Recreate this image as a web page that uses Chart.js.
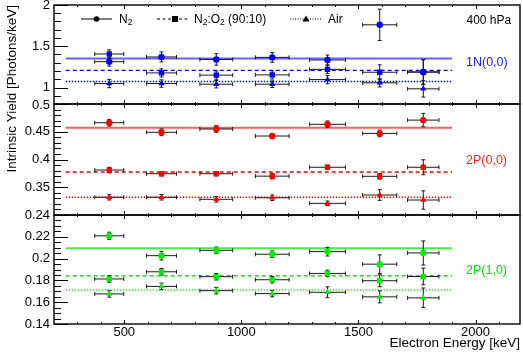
<!DOCTYPE html>
<html><head><meta charset="utf-8">
<script src="https://cdn.jsdelivr.net/npm/chart.js@4.4.1/dist/chart.umd.min.js"></script>
<style>
html,body{margin:0;padding:0;background:#fff;}
#wrap{position:relative;width:523px;height:358px;overflow:hidden;}
#wrap canvas{position:absolute;left:0;top:0;}
#c1{z-index:1;} #c3{z-index:2;} #c2{z-index:3;}
#topLabel{position:absolute;z-index:10;right:473px;top:97px;font:13px 'Liberation Sans', Arial, sans-serif;line-height:15px;color:#000;white-space:nowrap;}
</style></head><body>
<div id="wrap">
<canvas id="c1" width="523" height="358"></canvas>
<canvas id="c3" width="523" height="358"></canvas>
<canvas id="c2" width="523" height="358"></canvas>
<div id="topLabel">0.5</div>
</div>
<script>
// ---------------- DATA ----------------
const energies  = [436, 659, 893, 1132, 1368, 1591, 1777];
const energyErr = [62, 64, 70, 72, 77, 73, 67];
const meanRange = [250, 1900];

// 1N(0,0)
const n1_N2      = [1.313, 1.370, 1.340, 1.365, 1.334, 1.760, 1.185];
const n1_N2_err  = [0.055, 0.06, 0.07, 0.06, 0.06, 0.19, 0.15];
const n1_Mix     = [1.406, 1.177, 1.150, 1.153, 1.220, 1.185, 1.19];
const n1_Mix_err = [0.05, 0.05, 0.05, 0.05, 0.05, 0.09, 0.15];
const n1_Air     = [1.048, 1.048, 1.040, 1.040, 1.096, 1.057, 0.984];
const n1_Air_err = [0.05, 0.045, 0.045, 0.04, 0.05, 0.05, 0.1];
const n1_means   = [1.353, 1.208, 1.072];
const n1_ticks   = [1, 1.5, 2];

// 2P(0,0)
const p0_N2      = [0.4663, 0.449, 0.455, 0.4423, 0.4634, 0.447, 0.471];
const p0_N2_err  = [0.006, 0.006, 0.006, 0.004, 0.006, 0.006, 0.012];
const p0_Mix     = [0.381, 0.3744, 0.3744, 0.370, 0.386, 0.3697, 0.386];
const p0_Mix_err = [0.005, 0.004, 0.004, 0.005, 0.004, 0.005, 0.0135];
const p0_Air     = [0.332, 0.332, 0.3283, 0.331, 0.321, 0.336, 0.327];
const p0_Air_err = [0.005, 0.005, 0.005, 0.005, 0.004, 0.0096, 0.0165];
const p0_means   = [0.457, 0.3775, 0.332];
const p0_ticks   = [0.35, 0.4, 0.45];
const p0_topTick = 0.5;

// 2P(1,0)
const p1_N2      = [0.2209, 0.2027, 0.2076, 0.204, 0.2064, 0.1949, 0.2052];
const p1_N2_err  = [0.0033, 0.004, 0.003, 0.003, 0.004, 0.0085, 0.011];
const p1_Mix     = [0.1813, 0.1879, 0.1834, 0.1806, 0.1864, 0.1797, 0.1836];
const p1_Mix_err = [0.003, 0.003, 0.003, 0.003, 0.003, 0.0055, 0.0076];
const p1_Air     = [0.1676, 0.1745, 0.1706, 0.1679, 0.1691, 0.1649, 0.164];
const p1_Air_err = [0.003, 0.003, 0.003, 0.003, 0.005, 0.0055, 0.009];
const p1_means   = [0.2095, 0.1843, 0.1713];
const p1_ticks   = [0.14, 0.16, 0.18, 0.2, 0.22, 0.24];

const xTicks = [500, 1000, 1500, 2000];

// ---------------- STYLE ----------------
const FONT = "'Liberation Sans', Arial, Helvetica, sans-serif";
Chart.defaults.font.family = FONT;
Chart.defaults.color = '#000';

function markerSet(label, vals, errs, color, style, radius, order) {
  return {
    label, type: 'scatter',
    data: energies.map((e, i) => ({x: e, y: vals[i]})),
    xErr: energyErr, yErr: errs,
    pointStyle: style, pointRadius: radius, pointHoverRadius: radius,
    backgroundColor: color, borderColor: color, borderWidth: 0,
    showLine: false, order
  };
}
function meanSet(v, color, dash, width) {
  return {
    type: 'line',
    data: [{x: meanRange[0], y: v}, {x: meanRange[1], y: v}],
    borderColor: color, borderWidth: width, borderDash: dash,
    pointRadius: 0, fill: false, order: 10
  };
}

const errorBars = {
  id: 'errorBars',
  beforeDatasetDraw(chart, args) {
    const ds = chart.data.datasets[args.index];
    if (!ds.yErr) return;
    const xs = chart.scales.x, ys = chart.scales.y, ctx = chart.ctx;
    ctx.save();
    ctx.strokeStyle = '#1a1a1a';
    ctx.lineWidth = 1;
    const c = 2;
    ds.data.forEach((p, i) => {
      const px = xs.getPixelForValue(p.x), py = ys.getPixelForValue(p.y);
      const x0 = xs.getPixelForValue(p.x - ds.xErr[i]), x1 = xs.getPixelForValue(p.x + ds.xErr[i]);
      const y0 = ys.getPixelForValue(p.y - ds.yErr[i]), y1 = ys.getPixelForValue(p.y + ds.yErr[i]);
      ctx.beginPath();
      ctx.moveTo(x0, py); ctx.lineTo(x1, py);
      ctx.moveTo(x0, py - c); ctx.lineTo(x0, py + c);
      ctx.moveTo(x1, py - c); ctx.lineTo(x1, py + c);
      ctx.moveTo(px, y0); ctx.lineTo(px, y1);
      ctx.moveTo(px - c, y0); ctx.lineTo(px + c, y0);
      ctx.moveTo(px - c, y1); ctx.lineTo(px + c, y1);
      ctx.stroke();
    });
    ctx.restore();
  }
};

function frameTicks(cfg) {
  return {
    id: 'frameTicks',
    afterDraw(chart) {
      const ctx = chart.ctx, a = chart.chartArea;
      const xs = chart.scales.x, ys = chart.scales.y;
      ctx.save();
      ctx.strokeStyle = '#000';
      ctx.lineWidth = 1;
      ctx.beginPath();
      for (let v = 100; v <= 2100; v += 100) {
        const px = Math.round(xs.getPixelForValue(v)) + 0.5;
        if (px <= a.left + 1 || px >= a.right - 1) continue;
        const len = (v % 500 === 0) ? 4 : 2;
        ctx.moveTo(px, a.bottom); ctx.lineTo(px, a.bottom - len);
        ctx.moveTo(px, a.top); ctx.lineTo(px, a.top + len);
      }
      const i0 = Math.ceil(ys.min / cfg.minor - 1e-6), i1 = Math.floor(ys.max / cfg.minor + 1e-6);
      for (let i = i0; i <= i1; i++) {
        const v = i * cfg.minor;
        const r = v / cfg.major;
        const isMajor = Math.abs(r - Math.round(r)) < 1e-6;
        const py = Math.round(ys.getPixelForValue(v)) + 0.5;
        ctx.moveTo(a.left, py); ctx.lineTo(a.left + (isMajor ? 14 : 7), py);
      }
      ctx.stroke();
      ctx.lineWidth = 1.4;
      ctx.strokeRect(Math.round(a.left), Math.round(a.top), Math.round(a.right) - Math.round(a.left), Math.round(a.bottom) - Math.round(a.top));
      ctx.textBaseline = 'middle';
      ctx.font = '12.5px ' + FONT;
      ctx.fillStyle = cfg.labelColor;
      ctx.textAlign = 'left';
      ctx.fillText(cfg.label, 466, cfg.labelY);
      if (cfg.legend) drawLegend(ctx);
      ctx.restore();
    }
  };
}

function drawRich(ctx, x, y, parts) {
  parts.forEach(([t, sub]) => {
    ctx.font = (sub ? '8.5px ' : '12px ') + FONT;
    ctx.fillText(t, x, y + (sub ? 3 : 0));
    x += ctx.measureText(t).width;
  });
}
function drawLegend(ctx) {
  const y = 20;
  ctx.fillStyle = '#000';
  ctx.strokeStyle = '#000';
  ctx.lineWidth = 1;
  ctx.textAlign = 'left';
  ctx.textBaseline = 'middle';
  ctx.setLineDash([]);
  ctx.beginPath(); ctx.moveTo(81, y - 1); ctx.lineTo(112, y - 1); ctx.stroke();
  ctx.beginPath(); ctx.arc(96.5, y - 1, 2.8, 0, Math.PI * 2); ctx.fill();
  drawRich(ctx, 119, y, [['N', 0], ['2', 1]]);
  ctx.setLineDash([3, 2.5]);
  ctx.beginPath(); ctx.moveTo(157, y - 1); ctx.lineTo(188, y - 1); ctx.stroke();
  ctx.setLineDash([]);
  ctx.fillRect(172, y - 4, 6, 6);
  drawRich(ctx, 194, y, [['N', 0], ['2', 1], [':O', 0], ['2', 1], [' (90:10)', 0]]);
  ctx.setLineDash([1, 1.5]);
  ctx.beginPath(); ctx.moveTo(290, y - 1); ctx.lineTo(322, y - 1); ctx.stroke();
  ctx.setLineDash([]);
  ctx.beginPath(); ctx.moveTo(306, y - 4.5); ctx.lineTo(309.5, y + 1.5); ctx.lineTo(302.5, y + 1.5); ctx.closePath(); ctx.fill();
  drawRich(ctx, 328, y, [['Air', 0]]);
  ctx.font = '12px ' + FONT;
  ctx.fillText('400 hPa', 466.5, y + 0.5);
}

function fmt(v) { return String(+v.toFixed(3)); }

function makeChart(id, o) {
  const datasets = [
    markerSet('N2', o.n2, o.n2e, o.color, 'circle', 3.2, 1),
    markerSet('N2:O2 (90:10)', o.mix, o.mixe, o.color, 'rect', 3.8, 2),
    markerSet('Air', o.air, o.aire, o.color, 'triangle', 3.6, 3),
    meanSet(o.means[0], o.solid, [], 2),
    meanSet(o.means[1], o.color, [4, 3], 1.4),
    meanSet(o.means[2], o.color, [1.5, 1.5], 1.4)
  ];
  return new Chart(document.getElementById(id), {
    type: 'scatter',
    data: {datasets},
    options: {
      responsive: false, animation: false, events: [],
      layout: {autoPadding: false, padding: {left: 0, right: 3, top: o.top, bottom: o.bottom}},
      plugins: {legend: {display: false}, tooltip: {enabled: false}},
      scales: {
        x: {
          type: 'linear', min: 200, max: 2190,
          display: o.showX,
          grid: {display: false, drawTicks: false},
          border: {display: false},
          afterBuildTicks: s => { s.ticks = xTicks.map(v => ({value: v})); },
          afterFit: s => { s.height = o.showX ? 34 : 0; s.paddingLeft = 0; s.paddingRight = 0; },
          ticks: {font: {size: 13}, padding: 1, maxRotation: 0, autoSkip: false, callback: v => String(v)},
          title: {display: o.showX, text: 'Electron Energy [keV]', align: 'end', font: {size: 13.5}, padding: {top: 0, bottom: 6.5}}
        },
        y: {
          type: 'linear', min: o.ymin, max: o.ymax,
          grid: {display: false, drawTicks: false},
          border: {display: false},
          afterBuildTicks: s => { s.ticks = o.ticks.map(v => ({value: v})); },
          afterFit: s => { s.width = 54; s.paddingTop = 0; s.paddingBottom = 0; },
          ticks: {font: {size: 13}, padding: 4, autoSkip: false, callback: v => fmt(v)},
          title: {display: !!o.ytitle, text: o.ytitle || '', align: 'end', font: {size: 13.5}, padding: {top: 4.5, bottom: 0}}
        }
      }
    },
    plugins: [errorBars, frameTicks({minor: o.minor, major: o.major, label: o.label, labelY: o.labelY, labelColor: o.labelColor, legend: o.legend})]
  });
}

makeChart('c1', {
  n2: n1_N2, n2e: n1_N2_err, mix: n1_Mix, mixe: n1_Mix_err, air: n1_Air, aire: n1_Air_err, means: n1_means,
  color: '#0000ff', solid: 'rgba(60,60,255,0.8)', ymin: 0.8, ymax: 2, ticks: n1_ticks, minor: 0.1, major: 0.5,
  top: 5, bottom: 358 - 104, showX: false, ytitle: 'Intrinsic Yield [Photons/keV]',
  label: '1N(0,0)', labelY: 63, labelColor: '#2020ff', legend: true
});
const ch2 = makeChart('c2', {
  n2: p0_N2, n2e: p0_N2_err, mix: p0_Mix, mixe: p0_Mix_err, air: p0_Air, aire: p0_Air_err, means: p0_means,
  color: '#ff0000', solid: 'rgba(245,70,70,0.85)', ymin: 0.3, ymax: 0.5, ticks: p0_ticks, minor: 0.01, major: 0.05,
  top: 104, bottom: 358 - 215, showX: false,
  label: '2P(0,0)', labelY: 161, labelColor: '#ff2020', legend: false
});
makeChart('c3', {
  n2: p1_N2, n2e: p1_N2_err, mix: p1_Mix, mixe: p1_Mix_err, air: p1_Air, aire: p1_Air_err, means: p1_means,
  color: '#00ee00', solid: 'rgba(40,230,40,0.85)', ymin: 0.14, ymax: 0.24, ticks: p1_ticks, minor: 0.005, major: 0.02,
  top: 215, bottom: 0, showX: true,
  label: '2P(1,0)', labelY: 271, labelColor: '#00e000', legend: false
});
// top tick label of the middle panel, placed with that panel's own y scale
const tl = document.getElementById('topLabel');
tl.textContent = fmt(p0_topTick);
const topPx = ch2.scales.y.getPixelForValue(p0_topTick);
if (isFinite(topPx)) tl.style.top = (topPx - 7.5) + 'px';
</script>
</body></html>
